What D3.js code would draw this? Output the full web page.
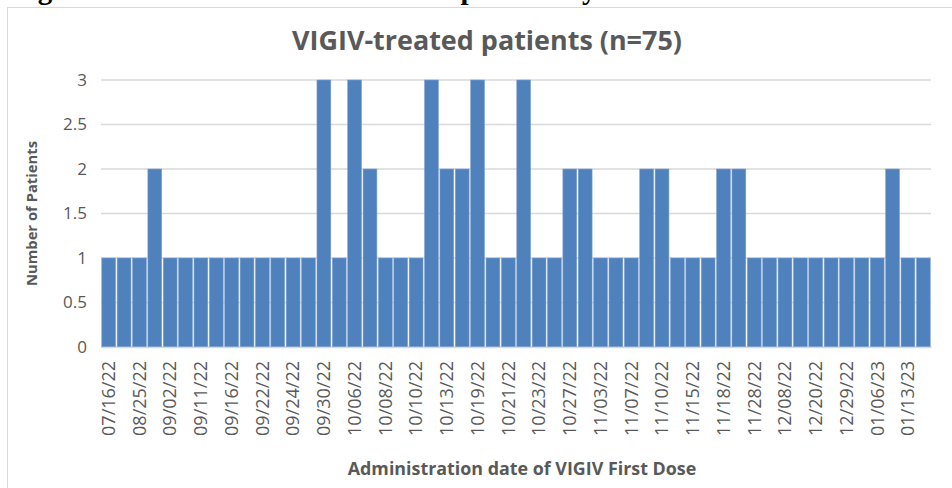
<!DOCTYPE html>
<html>
<head>
<meta charset="utf-8">
<script src="https://cdn.jsdelivr.net/npm/d3@7"></script>
<style>
    body { margin: 0; background: #fff; }
    svg { display: block; }
</style>
</head>
<body>
<div id="chart"></div>
<script>
// one bar per administration date, only every second date is labelled on the axis
const counts = [1, 1, 1, 2, 1, 1, 1, 1, 1, 1, 1, 1, 1, 1, 3, 1, 3, 2, 1, 1,
                1, 3, 2, 2, 3, 1, 1, 3, 1, 1, 2, 2, 1, 1, 1, 2, 2, 1, 1, 1,
                2, 2, 1, 1, 1, 1, 1, 1, 1, 1, 1, 2, 1, 1];
const dateLabels = ["07/16/22", "08/25/22", "09/02/22", "09/11/22", "09/16/22", "09/22/22",
                    "09/24/22", "09/30/22", "10/06/22", "10/08/22", "10/10/22", "10/13/22",
                    "10/19/22", "10/21/22", "10/23/22", "10/27/22", "11/03/22", "11/07/22",
                    "11/10/22", "11/15/22", "11/18/22", "11/28/22", "12/08/22", "12/20/22",
                    "12/29/22", "01/06/23", "01/13/23"];
const yTicks = [0, 0.5, 1, 1.5, 2, 2.5, 3];

const width = 952, height = 488;
const margin = { top: 80, right: 21, bottom: 141, left: 101 };
const textColor = "#595959";
const font = "'Open Sans', Lato, sans-serif";

const svg = d3.select("#chart")
              .append("svg")
              .attr("width", width)
              .attr("height", height)
              .style("font-family", font);

// shrink or grow a text until it spans the given width
function fitWidth(sel, target) {
    const size = parseFloat(sel.style("font-size"));
    const len = sel.node().getComputedTextLength();
    sel.style("font-size", (size * target / len).toFixed(2) + "px");
}

// caption of the document, cut off by the top edge (as in the source page)
svg.append("text")
   .attr("x", 12)
   .attr("y", -1.5)
   .style("font-family", "'Liberation Serif', 'DejaVu Serif', serif")
   .style("font-weight", "bold")
   .style("font-size", "29px")
   .attr("fill", "#000")
   .text("Figure 1. Number of VIGIV-treated patients by date of first dose administered");

// chart area frame
svg.append("rect")
   .attr("x", 7.5)
   .attr("y", 7.5)
   .attr("width", width + 20)
   .attr("height", height + 20)
   .attr("fill", "none")
   .attr("stroke", "#d9d9d9");

const x = d3.scaleBand()
            .domain(d3.range(counts.length))
            .range([margin.left, width - margin.right])
            .paddingInner(0.1)
            .paddingOuter(0.05);
const y = d3.scaleLinear()
            .domain([0, 3])
            .range([height - margin.bottom, margin.top]);

// gridlines
svg.append("g")
   .attr("class", "grid")
   .selectAll("line")
   .data(yTicks)
   .join("line")
   .attr("x1", margin.left)
   .attr("x2", width - margin.right)
   .attr("y1", (d) => y(d))
   .attr("y2", (d) => y(d))
   .attr("stroke", "#d9d9d9")
   .attr("stroke-width", 1.5);

// bars
svg.append("g")
   .attr("class", "bars")
   .selectAll("rect")
   .data(counts)
   .join("rect")
   .attr("x", (d, i) => x(i))
   .attr("y", (d) => y(d))
   .attr("width", x.bandwidth())
   .attr("height", (d) => y(0) - y(d))
   .attr("fill", "#4f81bd")
   .attr("stroke", "#7fa2cf")
   .attr("stroke-width", 0.6);

// y axis
const yAxis = svg.append("g")
                 .attr("transform", "translate(" + (margin.left - 6) + ",0)")
                 .call(d3.axisLeft(y).tickValues(yTicks).tickSize(0).tickPadding(8).tickFormat(d3.format("")));
yAxis.select(".domain").remove();
yAxis.selectAll("text")
     .attr("fill", textColor)
     .style("font-family", font)
     .style("font-size", "17px");

// x axis, labels on every second bar
const xAxis = svg.append("g")
                 .attr("transform", "translate(0," + y(0) + ")")
                 .call(d3.axisBottom(x)
                         .tickValues(d3.range(0, counts.length, 2))
                         .tickSize(0)
                         .tickFormat((d) => dateLabels[d / 2]));
xAxis.select(".domain")
     .attr("stroke", "#d9d9d9")
     .attr("stroke-width", 1.5);
xAxis.selectAll("text")
     .attr("transform", "rotate(-90)")
     .attr("x", -14)
     .attr("y", 0)
     .attr("dy", "0.35em")
     .style("text-anchor", "end")
     .attr("fill", textColor)
     .style("font-family", font)
     .style("font-size", "18px");

// titles
svg.append("text")
   .attr("x", 487)
   .attr("y", 50)
   .style("text-anchor", "middle")
   .style("font-weight", "bold")
   .style("font-size", "22px")
   .attr("fill", textColor)
   .text("VIGIV-treated patients (n=75)")
   .call(fitWidth, 390);

svg.append("text")
   .attr("transform", "translate(37," + ((margin.top + height - margin.bottom) / 2) + ") rotate(-90)")
   .style("text-anchor", "middle")
   .style("font-weight", "bold")
   .style("font-size", "15px")
   .attr("fill", textColor)
   .text("Number of Patients")
   .call(fitWidth, 145);

svg.append("text")
   .attr("x", 522)
   .attr("y", 475)
   .style("text-anchor", "middle")
   .style("font-weight", "bold")
   .style("font-size", "15px")
   .attr("fill", textColor)
   .text("Administration date of VIGIV First Dose")
   .call(fitWidth, 349);
</script>
</body>
</html>
